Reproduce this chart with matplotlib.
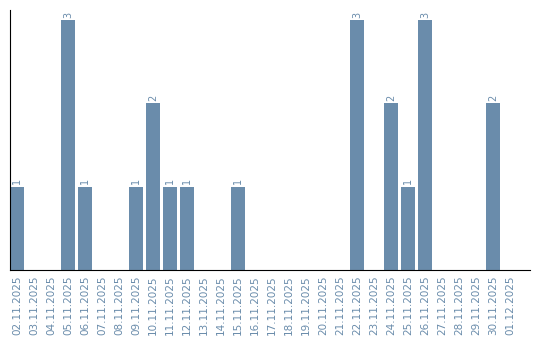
import matplotlib
matplotlib.use("Agg")
import matplotlib.pyplot as plt

dates = ["02.11.2025", "03.11.2025", "04.11.2025", "05.11.2025", "06.11.2025",
         "07.11.2025", "08.11.2025", "09.11.2025", "10.11.2025", "11.11.2025",
         "12.11.2025", "13.11.2025", "14.11.2025", "15.11.2025", "16.11.2025",
         "17.11.2025", "18.11.2025", "19.11.2025", "20.11.2025", "21.11.2025",
         "22.11.2025", "23.11.2025", "24.11.2025", "25.11.2025", "26.11.2025",
         "27.11.2025", "28.11.2025", "29.11.2025", "30.11.2025", "01.12.2025"]
counts = [1, 0, 0, 3, 1, 0, 0, 1, 2, 1,
          1, 0, 0, 1, 0, 0, 0, 0, 0, 0,
          3, 0, 2, 1, 3, 0, 0, 0, 2, 0]

color = "#6a8cab"

fig = plt.figure(figsize=(5.4, 3.4), dpi=100)
ax = fig.add_axes([10 / 540, 70 / 340, 520 / 540, 260 / 340])

x = list(range(len(dates)))
ax.bar(x, counts, width=14 / 17, color=color)

for xi, c in zip(x, counts):
    if c > 0:
        ax.text(xi, c + 0.03, str(c), rotation=90, ha="center", va="bottom",
                fontsize=7, color=color)

ax.set_xlim(-7 / 17, 30.18)
ax.set_ylim(0, 3.12)
ax.set_xticks(x)
ax.set_xticklabels(dates, rotation=90, fontsize=7.5, color=color)
ax.tick_params(axis="x", length=0, pad=4)
ax.set_yticks([])
ax.spines["top"].set_visible(False)
ax.spines["right"].set_visible(False)

fig.savefig("out.png", dpi=100)
